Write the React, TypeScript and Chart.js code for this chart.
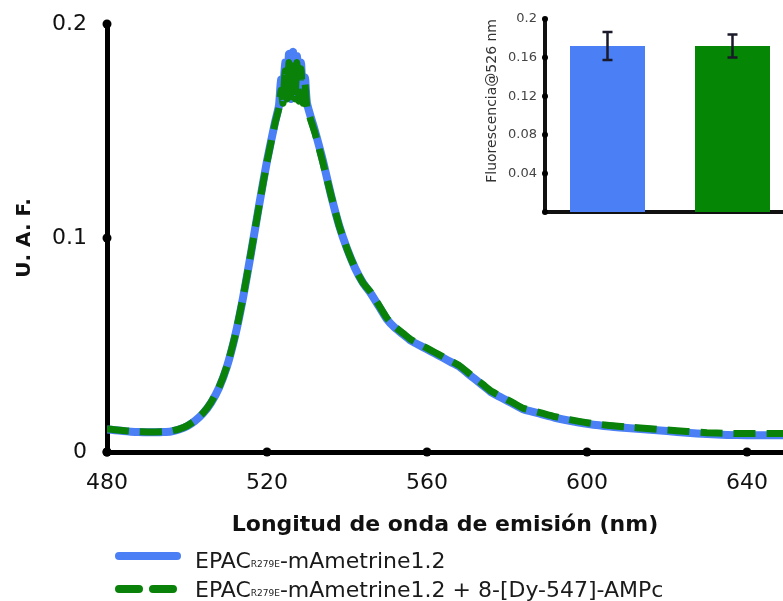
import React, { useEffect, useRef } from "react";
import { Chart, registerables } from "chart.js";

Chart.register(...registerables);

// ---- Main spectrum data ----
const wavelengths = [
  480, 482, 484, 486, 488, 490, 492, 494, 496, 498, 500, 502, 504, 506, 508, 510,
  512, 514, 516, 518, 520, 522, 523, 523.5, 524, 524.5, 525, 525.5, 526, 526.5,
  527, 527.5, 528, 528.5, 529, 529.5, 530, 532, 534, 536, 538, 540, 542, 544, 546,
  548, 550, 552, 554, 556, 558, 560, 562, 564, 566, 568, 570, 572, 574, 576, 578,
  580, 582, 584, 586, 588, 590, 592, 594, 596, 598, 600, 605, 610, 615, 620, 625,
  630, 635, 640, 645, 650,
];
const blueValues = [
  0.0105, 0.0102, 0.0098, 0.0095, 0.0093, 0.0092, 0.0092, 0.0093, 0.0096, 0.0105,
  0.012, 0.0145, 0.018, 0.023, 0.03, 0.04, 0.054, 0.072, 0.093, 0.115, 0.136,
  0.154, 0.162, 0.174, 0.165, 0.182, 0.167, 0.186, 0.165, 0.187, 0.166, 0.185,
  0.165, 0.182, 0.164, 0.175, 0.163, 0.15, 0.136, 0.12, 0.106, 0.095, 0.086,
  0.079, 0.074, 0.068, 0.062, 0.058, 0.055, 0.052, 0.05, 0.048, 0.046, 0.044,
  0.042, 0.04, 0.037, 0.034, 0.031, 0.028, 0.026, 0.024, 0.022, 0.02, 0.019,
  0.018, 0.017, 0.016, 0.0152, 0.0145, 0.0138, 0.0132, 0.012, 0.0112, 0.0105,
  0.0098, 0.009, 0.0084, 0.008, 0.0078, 0.0078, 0.0079,
];
const greenValues = [
  0.0108, 0.0104, 0.01, 0.0097, 0.0095, 0.0094, 0.0094, 0.0095, 0.0098, 0.0107,
  0.0122, 0.0147, 0.0182, 0.0232, 0.0302, 0.0402, 0.0542, 0.0722, 0.0932, 0.1148,
  0.1355, 0.1535, 0.161, 0.169, 0.163, 0.178, 0.165, 0.182, 0.164, 0.183, 0.165,
  0.182, 0.164, 0.179, 0.163, 0.172, 0.161, 0.149, 0.135, 0.12, 0.106, 0.095,
  0.086, 0.079, 0.0745, 0.0685, 0.0625, 0.0585, 0.0555, 0.0525, 0.0505, 0.0485,
  0.0465, 0.0445, 0.0425, 0.0405, 0.0375, 0.0345, 0.0315, 0.0285, 0.0265, 0.0245,
  0.0225, 0.0205, 0.0195, 0.0185, 0.0175, 0.0165, 0.0157, 0.015, 0.0143, 0.0137,
  0.0125, 0.0117, 0.011, 0.0103, 0.0096, 0.009, 0.0087, 0.0086, 0.0086, 0.0087,
];
const xTicks = [480, 520, 560, 600, 640];
const yTicks = [0, 0.1, 0.2];
const yTickLabels = ["0", "0.1", "0.2"];

// ---- Inset data ----
const insetCategories = ["EPAC", "EPAC + 8-[Dy-547]-AMPc"];
const insetValues = [0.172, 0.172];
const insetErrors = [0.0145, 0.012];
const insetTicks = [0, 0.04, 0.08, 0.12, 0.16, 0.2];
const insetTickLabels = ["", "0.04", "0.08", "0.12", "0.16", "0.2"];

const legendLabels = [
  ["EPAC", "R279E", "-mAmetrine1.2"],
  ["EPAC", "R279E", "-mAmetrine1.2 + 8-[Dy-547]-AMPc"],
];

const BLUE = "#4a7ff5";
const GREEN = "#0a820a";
const FONT = "'DejaVu Sans', Verdana, sans-serif";

const tickDots = (radius: number) => ({
  id: "tickDots",
  afterDraw(chart: any) {
    const ctx = chart.ctx;
    const { x, y } = chart.scales;
    ctx.save();
    ctx.fillStyle = "#000";
    const area = chart.chartArea;
    if (x.options.dotTicks) {
      for (const t of x.ticks) {
        const px = x.getPixelForValue(t.value);
        ctx.beginPath();
        ctx.arc(px, area.bottom, radius, 0, Math.PI * 2);
        ctx.fill();
      }
    }
    for (const t of y.ticks) {
      const py = y.getPixelForValue(t.value);
      ctx.beginPath();
      ctx.arc(area.left, py, radius, 0, Math.PI * 2);
      ctx.fill();
    }
    ctx.restore();
  },
});

const legendPlugin = {
  id: "customLegend",
  afterDraw(chart: any) {
    const ctx = chart.ctx;
    ctx.save();
    const rows = [
      { y: 556, base: 568, color: BLUE, dash: [] as number[] },
      { y: 589, base: 597, color: GREEN, dash: [20, 14] },
    ];
    rows.forEach((r, i) => {
      ctx.strokeStyle = r.color;
      ctx.lineWidth = 8;
      ctx.lineCap = "round";
      ctx.setLineDash(r.dash);
      ctx.beginPath();
      ctx.moveTo(119, r.y);
      ctx.lineTo(177, r.y);
      ctx.stroke();
      ctx.setLineDash([]);
      const [a, sub, b] = legendLabels[i];
      ctx.fillStyle = "#1a1a1a";
      ctx.textBaseline = "alphabetic";
      ctx.font = `22px ${FONT}`;
      let xx = 195;
      ctx.fillText(a, xx, r.base);
      xx += ctx.measureText(a).width;
      ctx.font = `9px ${FONT}`;
      ctx.fillText(sub, xx, r.base - 1);
      xx += ctx.measureText(sub).width;
      ctx.font = `22px ${FONT}`;
      ctx.fillText(b, xx, r.base);
    });
    ctx.restore();
  },
};

const errorBarPlugin = {
  id: "errorBars",
  afterDatasetsDraw(chart: any) {
    const ctx = chart.ctx;
    const meta = chart.getDatasetMeta(0);
    const y = chart.scales.y;
    ctx.save();
    ctx.strokeStyle = "#1a1a2a";
    ctx.lineWidth = 2.5;
    meta.data.forEach((bar: any, i: number) => {
      const top = y.getPixelForValue(insetValues[i] + insetErrors[i]);
      const bot = y.getPixelForValue(insetValues[i] - insetErrors[i]);
      const cx = bar.x;
      ctx.beginPath();
      ctx.moveTo(cx, top);
      ctx.lineTo(cx, bot);
      ctx.moveTo(cx - 5, top);
      ctx.lineTo(cx + 5, top);
      ctx.moveTo(cx - 5, bot);
      ctx.lineTo(cx + 5, bot);
      ctx.stroke();
    });
    ctx.restore();
  },
};

const noPad = (s: any) => {
  s.paddingLeft = 0;
  s.paddingRight = 0;
  s.paddingTop = 0;
  s.paddingBottom = 0;
};

export default function App() {
  const mainRef = useRef<HTMLCanvasElement | null>(null);
  const insetRef = useRef<HTMLCanvasElement | null>(null);

  useEffect(() => {
    const main = new Chart(mainRef.current!, {
      type: "line",
      data: {
        datasets: [
          {
            label: "EPAC R279E-mAmetrine1.2",
            data: wavelengths.map((w, i) => ({ x: w, y: blueValues[i] })),
            borderColor: BLUE,
            borderWidth: 8,
            pointRadius: 0,
            tension: 0.2,
            order: 2,
          },
          {
            label: "EPAC R279E-mAmetrine1.2 + 8-[Dy-547]-AMPc",
            data: wavelengths.map((w, i) => ({ x: w, y: greenValues[i] })),
            borderColor: GREEN,
            borderWidth: 7,
            borderDash: [22, 11],
            pointRadius: 0,
            tension: 0.2,
            order: 1,
          },
        ],
      },
      options: {
        animation: false,
        responsive: false,
        layout: { padding: { top: 24, right: 0, left: 0, bottom: 0 } },
        plugins: { legend: { display: false }, tooltip: { enabled: false } },
        scales: {
          x: {
            type: "linear",
            min: 480,
            max: 649,
            dotTicks: true,
            afterBuildTicks: (s: any) => {
              s.ticks = xTicks.map((v) => ({ value: v }));
            },
            afterFit: (s: any) => {
              s.height = 149;
              noPad(s);
            },
            grid: { display: false, drawTicks: false },
            border: { display: true, width: 5, color: "#000" },
            ticks: {
              padding: 18,
              color: "#111",
              font: { family: FONT, size: 22 },
              maxRotation: 0,
            },
            title: {
              display: true,
              text: "Longitud de onda de emisión (nm)",
              color: "#111",
              font: { family: FONT, size: 22, weight: "bold" },
              padding: { top: 0, bottom: 63 },
            },
          } as any,
          y: {
            type: "linear",
            min: 0,
            max: 0.2,
            afterBuildTicks: (s: any) => {
              s.ticks = yTicks.map((v) => ({ value: v }));
            },
            afterFit: (s: any) => {
              s.width = 107;
              noPad(s);
            },
            grid: { display: false, drawTicks: false },
            border: { display: true, width: 5, color: "#000" },
            ticks: {
              padding: 20,
              color: "#111",
              font: { family: FONT, size: 22 },
              callback: (v: any) => yTickLabels[yTicks.indexOf(v)] ?? "",
            },
            title: {
              display: true,
              text: "U. A. F.",
              color: "#111",
              font: { family: FONT, size: 20, weight: "bold" },
              padding: { top: 13, bottom: 0 },
            },
          },
        },
      },
      plugins: [tickDots(4.5), legendPlugin],
    });

    const inset = new Chart(insetRef.current!, {
      type: "bar",
      data: {
        labels: insetCategories,
        datasets: [
          {
            data: insetValues,
            backgroundColor: [BLUE, "#058605"],
            barPercentage: 0.6,
            categoryPercentage: 1,
          },
        ],
      },
      options: {
        animation: false,
        responsive: false,
        layout: { padding: { top: 19, right: 5, left: 0, bottom: 0 } },
        plugins: { legend: { display: false }, tooltip: { enabled: false } },
        scales: {
          x: {
            afterFit: (s: any) => {
              s.height = 18;
              noPad(s);
            },
            grid: { display: false, drawTicks: false },
            border: { display: true, width: 4, color: "#111" },
            ticks: { display: false },
          },
          y: {
            min: 0,
            max: 0.2,
            afterBuildTicks: (s: any) => {
              s.ticks = insetTicks.map((v) => ({ value: v }));
            },
            afterFit: (s: any) => {
              s.width = 175;
              noPad(s);
            },
            grid: { display: false, drawTicks: false },
            border: { display: true, width: 4, color: "#111" },
            ticks: {
              padding: 8,
              color: "#444",
              font: { family: FONT, size: 13 },
              callback: (v: any) => insetTickLabels[insetTicks.indexOf(v)] ?? "",
            },
            title: {
              display: true,
              text: "Fluorescencia@526 nm",
              align: "end",
              color: "#333",
              font: { family: FONT, size: 14 },
              padding: { top: 114, bottom: 0 },
            },
          },
        },
      },
      plugins: [tickDots(3), errorBarPlugin],
    });

    return () => {
      main.destroy();
      inset.destroy();
    };
  }, []);

  return (
    <div
      style={{
        position: "fixed",
        left: 0,
        top: 0,
        width: 783,
        height: 601,
        overflow: "hidden",
        background: "#fff",
      }}
    >
      <canvas
        ref={mainRef}
        width={783}
        height={601}
        style={{ position: "absolute", left: 0, top: 0 }}
      />
      <canvas
        ref={insetRef}
        width={430}
        height={230}
        style={{ position: "absolute", left: 370, top: 0 }}
      />
    </div>
  );
}
